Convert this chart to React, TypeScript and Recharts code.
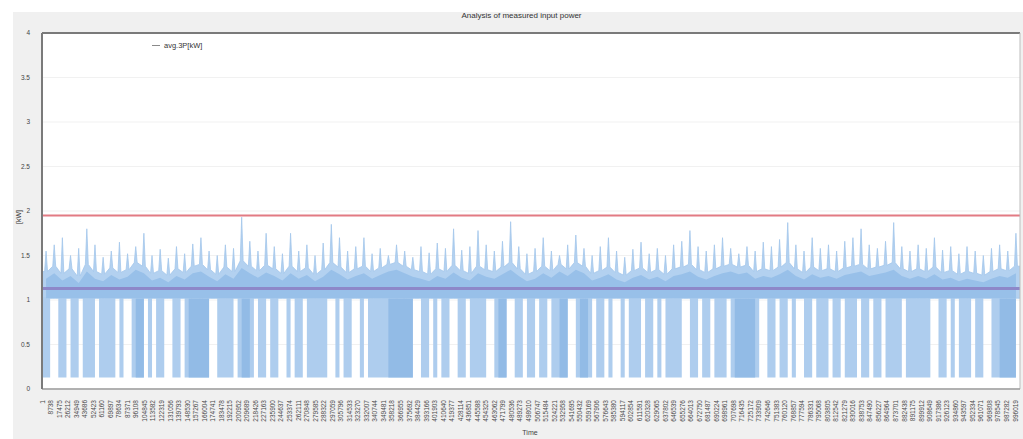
import { ComposedChart, Area, XAxis, YAxis, CartesianGrid, ReferenceLine, Legend } from 'recharts'

// Measured input power, one reading per x-segment of the sample range
// Highest spike in each segment [kW]
const SEGMENT_PEAKS = [
  1.55, 1.62, 1.7, 1.5, 1.58, 1.8, 1.62, 1.48, 1.55, 1.65,
  1.52, 1.6, 1.75, 1.5, 1.57, 1.47, 1.6, 1.52, 1.63, 1.7,
  1.55, 1.5, 1.62, 1.58, 1.93, 1.66, 1.55, 1.75, 1.6, 1.52,
  1.75, 1.55, 1.62, 1.5, 1.64, 1.85, 1.7, 1.55, 1.6, 1.7,
  1.52, 1.58, 1.5, 1.62, 1.55, 1.48, 1.6, 1.53, 1.64, 1.58,
  1.8, 1.56, 1.6, 1.78, 1.62, 1.55, 1.66, 1.88, 1.6, 1.52,
  1.58, 1.7, 1.55, 1.5, 1.62, 1.73, 1.58, 1.5, 1.6, 1.7,
  1.55, 1.48, 1.57, 1.65, 1.52, 1.58, 1.5, 1.62, 1.66, 1.78,
  1.6, 1.55, 1.62, 1.7, 1.58, 1.52, 1.6, 1.55, 1.65, 1.6,
  1.68, 1.87, 1.62, 1.55, 1.7, 1.58, 1.62, 1.55, 1.66, 1.7,
  1.8, 1.62, 1.58, 1.66, 1.87, 1.6, 1.55, 1.62, 1.58, 1.7,
  1.56, 1.6, 1.52, 1.6, 1.55, 1.5, 1.58, 1.62, 1.55, 1.75,
]

// Typical (dense) level in each segment [kW]
const SEGMENT_LEVELS = [
  1.32, 1.38, 1.3, 1.35, 1.27, 1.4, 1.32, 1.29, 1.36, 1.31,
  1.34, 1.42, 1.38, 1.3, 1.33, 1.28, 1.35, 1.31, 1.38, 1.4,
  1.34, 1.29, 1.37, 1.32, 1.44, 1.38, 1.33, 1.39, 1.35, 1.3,
  1.38, 1.32, 1.36, 1.29, 1.34, 1.42, 1.37, 1.31, 1.35, 1.38,
  1.32, 1.36, 1.4, 1.42, 1.38, 1.34, 1.32, 1.29, 1.35, 1.32,
  1.39, 1.33, 1.3, 1.38, 1.34, 1.32, 1.37, 1.42, 1.35, 1.29,
  1.32, 1.38, 1.33, 1.4, 1.35, 1.42, 1.38, 1.3, 1.33, 1.37,
  1.31, 1.28, 1.33, 1.36, 1.31, 1.34, 1.29, 1.35, 1.37, 1.4,
  1.34, 1.31, 1.35, 1.38, 1.4, 1.37, 1.39, 1.32, 1.35, 1.33,
  1.37, 1.42, 1.35, 1.31, 1.37, 1.33, 1.35, 1.32, 1.36, 1.38,
  1.4, 1.35, 1.37, 1.39, 1.42, 1.35, 1.32, 1.35, 1.32, 1.37,
  1.31, 1.33, 1.29, 1.32, 1.3, 1.28, 1.32, 1.35, 1.33, 1.38,
]

// Standby drops per narrow slice: 0 none, 1 some, 2 frequent
const DROP_DENSITY = [
  1, 1, 0, 0, 1, 1, 0, 1, 1, 0, 1, 1, 1, 0, 1, 1, 1, 1, 0, 1, 0, 0, 1, 2,
  2, 0, 1, 0, 1, 1, 0, 0, 1, 1, 0, 1, 2, 2, 2, 2, 2, 0, 0, 1, 1, 1, 1, 0,
  1, 2, 2, 1, 0, 1, 1, 0, 1, 1, 0, 0, 1, 0, 1, 1, 0, 1, 1, 1, 1, 1, 0, 0,
  1, 0, 1, 1, 0, 0, 1, 0, 1, 1, 1, 1, 1, 2, 2, 2, 2, 2, 2, 0, 0, 1, 1, 0,
  1, 0, 1, 1, 0, 0, 1, 1, 0, 1, 1, 1, 1, 0, 0, 1, 2, 2, 0, 0, 1, 1, 0, 1,
  1, 0, 1, 1, 0, 1, 1, 2, 2, 0, 0, 1, 2, 2, 1, 0, 1, 1, 0, 1, 0, 0, 1, 0,
  1, 1, 1, 0, 1, 1, 0, 1, 0, 1, 1, 1, 1, 0, 0, 1, 1, 0, 1, 1, 0, 1, 1, 1,
  0, 1, 2, 2, 2, 2, 2, 1, 0, 0, 1, 1, 0, 1, 1, 0, 1, 0, 0, 1, 1, 0, 1, 1,
  1, 0, 1, 1, 0, 1, 1, 1, 0, 1, 1, 0, 1, 1, 0, 1, 1, 1, 1, 0, 1, 1, 1, 1,
  1, 1, 0, 0, 1, 1, 0, 1, 0, 1, 1, 1, 0, 1, 1, 0, 0, 1, 1, 2, 2, 2, 2, 0,
]

const STANDBY_KW = 0.13
const RUN_FLOOR_KW = 1.02
const AVG_KW = 1.13
const LIMIT_KW = 1.95

const Y_TICKS = [0, 0.5, 1, 1.5, 2, 2.5, 3, 3.5, 4]
const X_START = 1
const X_END = 1001137
const TICK_STEP = 8737
const X_TICKS = Array.from({ length: 115 }, (_, i) => X_START + i * TICK_STEP)

const segW = (X_END - X_START) / SEGMENT_PEAKS.length
const segX = (i: number) => X_START + i * segW
const sliceW = (X_END - X_START) / DROP_DENSITY.length
const sliceX = (i: number) => X_START + i * sliceW

// narrow spike on top of the dense level of each segment
const spikeData = [
  { x: X_START, kw: [RUN_FLOOR_KW, SEGMENT_LEVELS[0]] },
  ...SEGMENT_PEAKS.flatMap((peak, i) => [
    { x: segX(i + 0.32), kw: [RUN_FLOOR_KW, SEGMENT_LEVELS[i]] },
    { x: segX(i + 0.5), kw: [RUN_FLOOR_KW, peak] },
    { x: segX(i + 0.68), kw: [RUN_FLOOR_KW, SEGMENT_LEVELS[i]] },
  ]),
  { x: X_END, kw: [RUN_FLOOR_KW, SEGMENT_LEVELS[SEGMENT_LEVELS.length - 1]] },
]

const levelData = SEGMENT_LEVELS.map((lvl, i) => ({ x: segX(i + 0.5), kw: [RUN_FLOOR_KW, lvl - 0.08] }))

const dropData = (minDensity: number) =>
  DROP_DENSITY.flatMap((d, i) =>
    d >= minDensity
      ? [
          { x: sliceX(i), kw: [STANDBY_KW, RUN_FLOOR_KW] },
          { x: sliceX(i + 1), kw: [STANDBY_KW, RUN_FLOOR_KW] },
        ]
      : [{ x: sliceX(i + 0.5), kw: null }]
  )

const font = '"Liberation Sans", Arial, sans-serif'

function XTick({ x, y, payload }: { x?: number; y?: number; payload?: { value: number } }) {
  const ty = (y ?? 0) + 3
  return (
    <text
      x={x}
      y={ty}
      transform={`rotate(-90 ${x} ${ty})`}
      textAnchor="end"
      dominantBaseline="central"
      fontSize={6.5}
      fontFamily={font}
      fill="#4a4a4a"
    >
      {payload?.value}
    </text>
  )
}

function LegendBox() {
  return (
    <div style={{ display: 'flex', alignItems: 'center', fontFamily: font, fontSize: 7.5, color: '#333' }}>
      <span style={{ display: 'inline-block', width: 8, height: 1, background: '#8a8a8a', marginRight: 4 }} />
      avg.3P[kW]
    </div>
  )
}

export default function App() {
  return (
    <div style={{ position: 'absolute', left: 0, top: 0, width: 1023, height: 439, background: '#fff', overflow: 'hidden' }}>
      <div style={{ position: 'absolute', left: 13, top: 12, width: 1010, height: 427, background: '#f0f0f0' }} />
      <div
        style={{
          position: 'absolute',
          top: 11,
          left: 0,
          width: 1043,
          textAlign: 'center',
          fontFamily: font,
          fontSize: 8,
          color: '#333',
        }}
      >
        Analysis of measured input power
      </div>
      <div
        style={{
          position: 'absolute',
          left: 18,
          top: 217,
          transform: 'translate(-50%, -50%) rotate(-90deg)',
          fontFamily: font,
          fontSize: 7,
          color: '#333',
        }}
      >
        [kW]
      </div>
      <div
        style={{
          position: 'absolute',
          top: 429,
          left: 0,
          width: 1060,
          textAlign: 'center',
          fontFamily: font,
          fontSize: 7,
          color: '#444',
        }}
      >
        Time
      </div>
      <div style={{ position: 'absolute', left: 0, top: 0 }}>
        <ComposedChart width={1023} height={439} margin={{ top: 33, right: 3, bottom: 0, left: 0 }}>
          <CartesianGrid vertical={false} stroke="#f1f1f1" fill="#ffffff" />
          <XAxis
            type="number"
            dataKey="x"
            domain={[X_START, X_END]}
            ticks={X_TICKS}
            interval={0}
            height={41}
            allowDataOverflow
            tickLine={false}
            axisLine={{ stroke: '#9a9a9a', strokeWidth: 1.5 }}
            tick={<XTick />}
          />
          <YAxis
            type="number"
            domain={[0, 4]}
            ticks={Y_TICKS}
            width={42}
            interval={0}
            tickLine={false}
            tickMargin={6}
            axisLine={{ stroke: '#7a7a7a', strokeWidth: 2 }}
            tick={{ fontSize: 6.5, fill: '#444', fontFamily: font }}
          />
          <Area
            data={dropData(1)}
            dataKey="kw"
            type="linear"
            stroke="none"
            fill="#aecdee"
            fillOpacity={1}
            dot={false}
            activeDot={false}
            isAnimationActive={false}
          />
          <Area
            data={dropData(2)}
            dataKey="kw"
            type="linear"
            stroke="none"
            fill="#92bbe6"
            fillOpacity={1}
            dot={false}
            activeDot={false}
            isAnimationActive={false}
          />
          <Area
            data={spikeData}
            dataKey="kw"
            name="avg.3P[kW]"
            type="linear"
            stroke="#a3c6eb"
            strokeWidth={0.8}
            fill="#b3d1f0"
            fillOpacity={1}
            dot={false}
            activeDot={false}
            isAnimationActive={false}
          />
          <Area
            data={levelData}
            dataKey="kw"
            type="linear"
            stroke="none"
            fill="#98c0e9"
            fillOpacity={1}
            dot={false}
            activeDot={false}
            isAnimationActive={false}
          />
          <ReferenceLine y={LIMIT_KW} stroke="#e27b83" strokeWidth={2} />
          <ReferenceLine y={AVG_KW} stroke="#8d88c9" strokeWidth={3} />
          <ReferenceLine y={4} stroke="#7a7a7a" strokeWidth={2} />
          <ReferenceLine x={X_END} stroke="#bdbdbd" strokeWidth={1} />
          <Legend content={<LegendBox />} wrapperStyle={{ position: 'absolute', top: 41, left: 152, width: 'auto' }} />
        </ComposedChart>
      </div>
    </div>
  )
}
